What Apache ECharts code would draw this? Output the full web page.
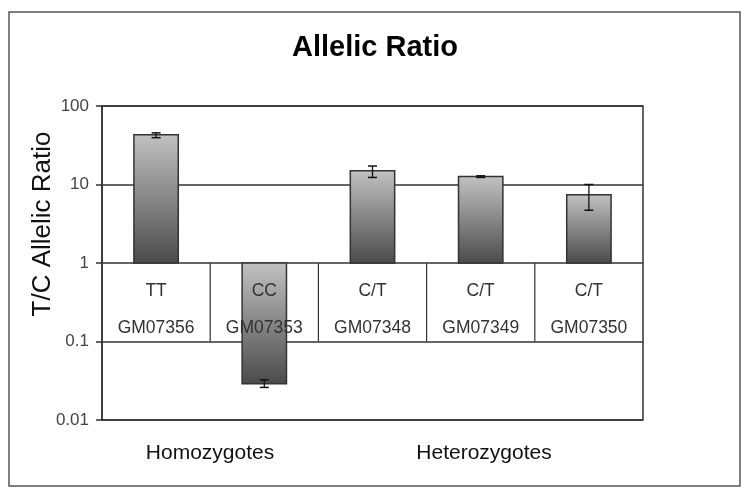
<!DOCTYPE html>
<html>
<head>
<meta charset="utf-8">
<script src="https://cdn.jsdelivr.net/npm/echarts@6/dist/echarts.min.js"></script>
<style>
  html, body { margin: 0; padding: 0; background: #fff; }
  #chart { width: 750px; height: 497px; }
</style>
</head>
<body>
<div id="chart"></div>
<script>
// values
const samples = ["GM07356", "GM07353", "GM07348", "GM07349", "GM07350"];
const genotypes = ["TT", "CC", "C/T", "C/T", "C/T"];
const ratios = [43, 0.029, 15, 12.6, 7.4];
const errLow = [39.5, 0.026, 12.3, 12.3, 4.7];
const errHigh = [45.5, 0.0325, 17.2, 12.9, 10];
const groupLabels = ["Homozygotes", "Heterozygotes"];

const FONT = "Liberation Sans, Arial, sans-serif";
const chart = echarts.init(document.getElementById("chart"));

const barData = samples.map((s, i) => [i, ratios[i], errLow[i], errHigh[i]]);

const renderBar = (params, api) => {
  const i = api.value(0);
  const base = api.coord([i, 1]);
  const top = api.coord([i, api.value(1)]);
  const lo = api.coord([i, api.value(2)]);
  const hi = api.coord([i, api.value(3)]);
  const w = api.size([1, 0])[0] * 0.41;
  const y0 = Math.min(base[1], top[1]);
  const h = Math.abs(base[1] - top[1]);
  const cap = 4.5;
  return {
    type: "group",
    children: [
      {
        type: "rect",
        shape: { x: base[0] - w / 2, y: y0, width: w, height: h },
        style: {
          fill: new echarts.graphic.LinearGradient(0, 0, 0, 1, [
            { offset: 0, color: "#c2c2c2" },
            { offset: 1, color: "#4a4a4a" }
          ]),
          stroke: "#333",
          lineWidth: 1.5
        }
      },
      {
        type: "line",
        shape: { x1: lo[0], y1: lo[1], x2: hi[0], y2: hi[1] },
        style: { stroke: "#111", lineWidth: 1.3 }
      },
      {
        type: "line",
        shape: { x1: hi[0] - cap, y1: hi[1], x2: hi[0] + cap, y2: hi[1] },
        style: { stroke: "#111", lineWidth: 1.5 }
      },
      {
        type: "line",
        shape: { x1: lo[0] - cap, y1: lo[1], x2: lo[0] + cap, y2: lo[1] },
        style: { stroke: "#111", lineWidth: 1.5 }
      }
    ]
  };
};

const renderLabel = (params, api) => {
  const i = api.value(0);
  const p1 = api.coord([i, 1]);
  const p01 = api.coord([i, 0.1]);
  const half = api.size([1, 0])[0] / 2;
  const children = [
    {
      type: "text",
      style: {
        x: p1[0], y: p1[1] + 28, text: genotypes[i],
        fill: "#333", font: "17.5px " + FONT, align: "center", verticalAlign: "middle"
      }
    },
    {
      type: "text",
      style: {
        x: p1[0], y: p1[1] + 65, text: samples[i],
        fill: "#333", font: "17.5px " + FONT, align: "center", verticalAlign: "middle"
      }
    }
  ];
  if (i < samples.length - 1) {
    children.push({
      type: "line",
      shape: { x1: p1[0] + half, y1: p1[1], x2: p1[0] + half, y2: p01[1] },
      style: { stroke: "#333", lineWidth: 1.2 }
    });
  }
  return { type: "group", children };
};

chart.setOption({
  animation: false,
  backgroundColor: "#fff",
  title: {
    text: "Allelic Ratio",
    left: "center",
    top: 28,
    textStyle: { fontFamily: FONT, fontSize: 29, fontWeight: "bold", color: "#000" }
  },
  grid: {
    left: 102, top: 106, width: 541, height: 314,
    show: true, borderColor: "#333", borderWidth: 1.5
  },
  xAxis: {
    type: "category",
    data: samples,
    axisLine: { show: false },
    axisTick: { show: false },
    axisLabel: { show: false },
    splitLine: { show: false }
  },
  yAxis: {
    type: "log",
    logBase: 10,
    min: 0.01,
    max: 100,
    axisLine: { show: true, lineStyle: { color: "#333", width: 1.5 } },
    axisTick: { show: true, length: 6, lineStyle: { color: "#333", width: 1.5 } },
    minorTick: { show: false },
    axisLabel: { color: "#444", fontSize: 17, fontFamily: FONT, margin: 13 },
    splitLine: { show: true, lineStyle: { color: "#333", width: 1.5 } }
  },
  graphic: [
    {
      type: "rect",
      shape: { x: 9, y: 12, width: 731, height: 474 },
      style: { fill: null, stroke: "#555", lineWidth: 1.5 },
      silent: true
    },
    {
      type: "text",
      x: 43, y: 224, rotation: Math.PI / 2,
      style: {
        text: "T/C Allelic Ratio", fill: "#111", font: "26px " + FONT,
        align: "center", verticalAlign: "middle"
      }
    },
    {
      type: "text",
      x: 210, y: 453,
      style: {
        text: groupLabels[0], fill: "#111", font: "21px " + FONT,
        align: "center", verticalAlign: "middle"
      }
    },
    {
      type: "text",
      x: 484, y: 453,
      style: {
        text: groupLabels[1], fill: "#111", font: "21px " + FONT,
        align: "center", verticalAlign: "middle"
      }
    }
  ],
  series: [
    {
      type: "custom",
      name: "ratio",
      z: 3,
      renderItem: renderBar,
      encode: { x: 0, y: 1 },
      data: barData
    },
    {
      type: "custom",
      name: "labels",
      z: 4,
      renderItem: renderLabel,
      encode: { x: 0, y: 1 },
      data: samples.map((s, i) => [i, 1])
    }
  ]
});
</script>
</body>
</html>
